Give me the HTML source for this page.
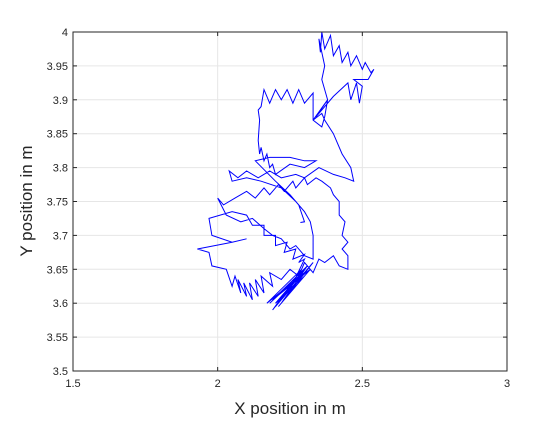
<!DOCTYPE html>
<html><head><meta charset="utf-8"><style>
body{margin:0;background:#fff;width:560px;height:420px;overflow:hidden}
text{font-family:"Liberation Sans",sans-serif;fill:#262626}
</style></head><body>
<svg id="chart" width="560" height="420" xmlns="http://www.w3.org/2000/svg">
<rect x="0" y="0" width="560" height="420" fill="#fff"/>
<g id="grid"></g>
<g id="ticks"></g>
<polyline id="path" fill="none" stroke="#0000ff" stroke-width="1"/>
<rect x="73" y="32" width="434" height="339" fill="none" stroke="#262626" stroke-width="1"/>
<text x="290" y="414" font-size="17" text-anchor="middle">X position in m</text>
<text x="32" y="201" font-size="17" text-anchor="middle" transform="rotate(-90 32 201)">Y position in m</text>
</svg>
<script>
const xTicks=[1.5,2,2.5,3];
const xTickLabels=["1.5","2","2.5","3"];
const yTicks=[3.5,3.55,3.6,3.65,3.7,3.75,3.8,3.85,3.9,3.95,4];
const yTickLabels=["3.5","3.55","3.6","3.65","3.7","3.75","3.8","3.85","3.9","3.95","4"];
const xs=[2.18,2.28,2.2,2.3,2.17,2.29,2.19,2.31,2.2,2.3,2.21,2.32,2.19,2.31,2.22,2.33,2.25,2.3,2.28,2.3,2.26,2.27,2.23,2.24,2.2,2.2,2.16,2.16,2.12,2.1,2.05,1.97,1.98,2.05,2.1,2.05,1.93,1.97,1.98,2.03,2.05,2.06,2.08,2.07,2.1,2.09,2.12,2.11,2.14,2.13,2.16,2.15,2.19,2.18,2.22,2.25,2.28,2.3,2.33,2.35,2.37,2.4,2.42,2.45,2.45,2.43,2.45,2.43,2.44,2.42,2.42,2.4,2.39,2.36,2.34,2.31,2.3,2.27,2.26,2.23,2.21,2.18,2.16,2.13,2.1,2.06,2.02,2.0,2.03,2.08,2.12,2.16,2.19,2.22,2.25,2.27,2.3,2.33,2.33,2.32,2.3,2.27,2.22,2.15,2.1,2.05,2.04,2.07,2.1,2.14,2.18,2.22,2.27,2.3,2.35,2.4,2.44,2.47,2.46,2.43,2.4,2.37,2.36,2.33,2.38,2.34,2.4,2.45,2.46,2.48,2.49,2.5,2.47,2.52,2.54,2.53,2.51,2.5,2.48,2.46,2.45,2.43,2.42,2.4,2.39,2.37,2.36,2.355,2.35,2.37,2.36,2.38,2.37,2.36,2.33,2.33,2.3,2.28,2.26,2.24,2.22,2.2,2.18,2.16,2.15,2.14,2.145,2.14,2.145,2.15,2.16,2.17,2.18,2.19,2.2,2.25,2.3,2.34,2.3,2.25,2.18,2.13,2.2,2.25,2.28,2.3,2.286];
const ys=[3.6,3.64,3.595,3.645,3.6,3.65,3.59,3.655,3.6,3.64,3.595,3.65,3.605,3.655,3.6,3.66,3.62,3.665,3.66,3.672,3.665,3.68,3.675,3.69,3.685,3.7,3.7,3.715,3.715,3.73,3.735,3.725,3.7,3.69,3.695,3.69,3.68,3.675,3.655,3.65,3.625,3.64,3.615,3.635,3.61,3.63,3.605,3.63,3.61,3.635,3.615,3.64,3.625,3.645,3.635,3.65,3.64,3.66,3.645,3.665,3.66,3.67,3.655,3.65,3.67,3.68,3.69,3.7,3.72,3.73,3.75,3.76,3.77,3.78,3.785,3.775,3.785,3.77,3.78,3.765,3.775,3.76,3.77,3.755,3.765,3.755,3.745,3.755,3.73,3.72,3.725,3.71,3.7,3.695,3.68,3.685,3.67,3.665,3.7,3.72,3.735,3.75,3.77,3.78,3.785,3.78,3.795,3.785,3.795,3.785,3.795,3.785,3.79,3.785,3.8,3.79,3.785,3.78,3.8,3.82,3.85,3.87,3.88,3.87,3.9,3.875,3.905,3.925,3.9,3.925,3.895,3.92,3.93,3.93,3.945,3.94,3.955,3.945,3.965,3.95,3.97,3.955,3.98,3.965,3.995,3.975,4.0,3.97,3.99,3.95,3.93,3.9,3.875,3.86,3.87,3.91,3.895,3.915,3.895,3.915,3.9,3.915,3.895,3.915,3.89,3.885,3.87,3.84,3.82,3.83,3.81,3.82,3.8,3.805,3.79,3.805,3.8,3.81,3.81,3.815,3.815,3.81,3.78,3.76,3.745,3.72,3.719];
const X0=73,X1=507,Y0=371,Y1=32;
const xMin=1.5,xMax=3,yMin=3.5,yMax=4;
function sx(v){return X0+(v-xMin)/(xMax-xMin)*(X1-X0);}
function sy(v){return Y0-(v-yMin)/(yMax-yMin)*(Y0-Y1);}
const NS="http://www.w3.org/2000/svg";
const grid=document.getElementById('grid'),ticks=document.getElementById('ticks');
function mk(tag,attrs,parent){const e=document.createElementNS(NS,tag);for(const k in attrs)e.setAttribute(k,attrs[k]);parent.appendChild(e);return e;}
xTicks.forEach((t,i)=>{const x=sx(t);
 const g=mk('line',{x1:x,x2:x,y1:Y1,y2:Y0,stroke:'#e6e6e6','stroke-width':1},grid);
 
 
 mk('line',{x1:x,x2:x,y1:Y0,y2:Y0-4,stroke:'#262626'},ticks);
 mk('line',{x1:x,x2:x,y1:Y1,y2:Y1+4,stroke:'#262626'},ticks);
 const l=mk('text',{x:x,y:Y0+16,'font-size':11,'text-anchor':'middle'},ticks);l.textContent=xTickLabels[i];
 
 
});
yTicks.forEach((t,i)=>{const y=sy(t);
 const g=mk('line',{x1:X0,x2:X1,y1:y,y2:y,stroke:'#e6e6e6','stroke-width':1},grid);
 
 
 mk('line',{x1:X0,x2:X0+4,y1:y,y2:y,stroke:'#262626'},ticks);
 mk('line',{x1:X1,x2:X1-4,y1:y,y2:y,stroke:'#262626'},ticks);
 const l=mk('text',{x:X0-5,y:y+4,'font-size':11,'text-anchor':'end'},ticks);l.textContent=yTickLabels[i];
 
 
});
document.getElementById('path').setAttribute('points',xs.map((v,i)=>sx(v).toFixed(1)+','+sy(ys[i]).toFixed(1)).join(' '));
</script>
</body></html>
